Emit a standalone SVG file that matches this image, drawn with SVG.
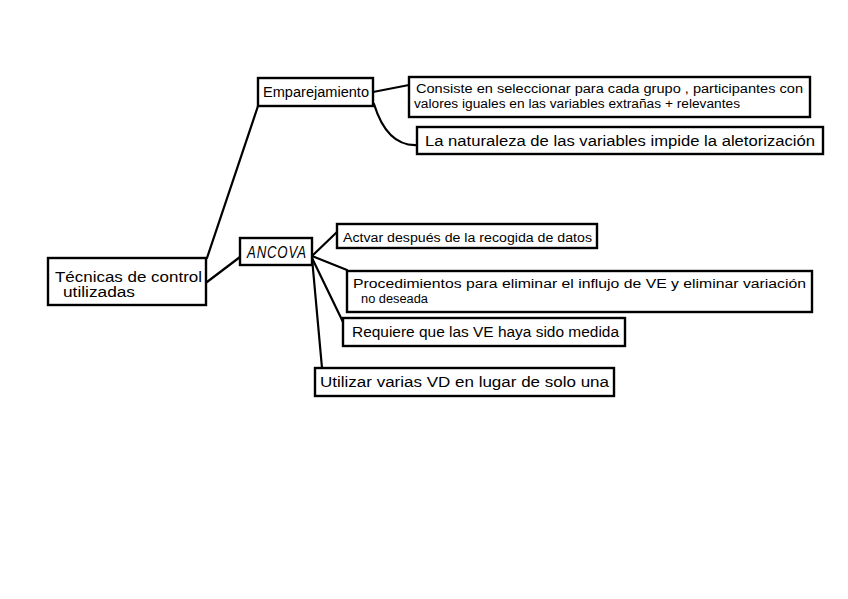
<svg xmlns="http://www.w3.org/2000/svg" width="848" height="599" viewBox="0 0 848 599">
<style>
.box{fill:#fff;stroke:#000;stroke-width:2.4}
.con{fill:none;stroke:#000;stroke-width:2.2;stroke-linecap:round}
text{font-family:"Liberation Sans","DejaVu Sans",sans-serif;font-size:12.5px;fill:#000}
.big{font-size:16px;font-style:italic;letter-spacing:1px}
.mid{font-size:14px}
</style>
<rect width="848" height="599" fill="#fff"/>
<g id="connectors">
<path class="con" d="M207,258 L258,106"/>
<path class="con" d="M207,282 L240,257"/>
<path class="con" d="M373,92 L409,85"/>
<path class="con" d="M374,104 C382,130 396,146 417,145"/>
<path class="con" d="M312,256 L337,232"/>
<path class="con" d="M312,256 L347,270"/>
<path class="con" d="M312,258 L343,322"/>
<path class="con" d="M312,258 L322,368"/>
</g>
<g id="tecnicas">
<rect class="box" x="48" y="258" width="158" height="47"/>
<text class="mid" x="55" y="282" textLength="147" lengthAdjust="spacingAndGlyphs">Técnicas de control</text>
<text class="mid" x="63" y="297" textLength="72" lengthAdjust="spacingAndGlyphs">utilizadas</text>
</g>
<g id="emparejamiento">
<rect class="box" x="258" y="78" width="115" height="28"/>
<text class="mid" x="263" y="97" textLength="106" lengthAdjust="spacingAndGlyphs">Emparejamiento</text>
</g>
<g id="consiste">
<rect class="box" x="409" y="77" width="401" height="40"/>
<text x="416" y="93" textLength="387" lengthAdjust="spacingAndGlyphs">Consiste en seleccionar para cada grupo , participantes con</text>
<text x="414" y="108" textLength="326" lengthAdjust="spacingAndGlyphs">valores iguales en las variables extrañas + relevantes</text>
</g>
<g id="naturaleza">
<rect class="box" x="417" y="127" width="406" height="27"/>
<text class="mid" x="425" y="146" textLength="390" lengthAdjust="spacingAndGlyphs">La naturaleza de las variables impide la aletorización</text>
</g>
<g id="ancova">
<rect class="box" x="240" y="238" width="72" height="27"/>
<text class="big" x="247" y="258" textLength="60" lengthAdjust="spacingAndGlyphs">ANCOVA</text>
</g>
<g id="actvar">
<rect class="box" x="337" y="224" width="260" height="24"/>
<text x="343" y="242" textLength="249" lengthAdjust="spacingAndGlyphs">Actvar después de la recogida de datos</text>
</g>
<g id="procedimientos">
<rect class="box" x="347" y="271" width="465" height="41"/>
<text x="353" y="288" textLength="453" lengthAdjust="spacingAndGlyphs">Procedimientos para eliminar el influjo de VE y eliminar variación</text>
<text x="361" y="303" textLength="67" lengthAdjust="spacingAndGlyphs">no deseada</text>
</g>
<g id="requiere">
<rect class="box" x="343" y="318" width="282" height="28"/>
<text class="mid" x="352" y="337" textLength="267" lengthAdjust="spacingAndGlyphs">Requiere que las VE haya sido medida</text>
</g>
<g id="utilizar">
<rect class="box" x="315" y="368" width="299" height="28"/>
<text class="mid" x="320" y="387" textLength="289" lengthAdjust="spacingAndGlyphs">Utilizar varias VD en lugar de solo una</text>
</g>
</svg>
